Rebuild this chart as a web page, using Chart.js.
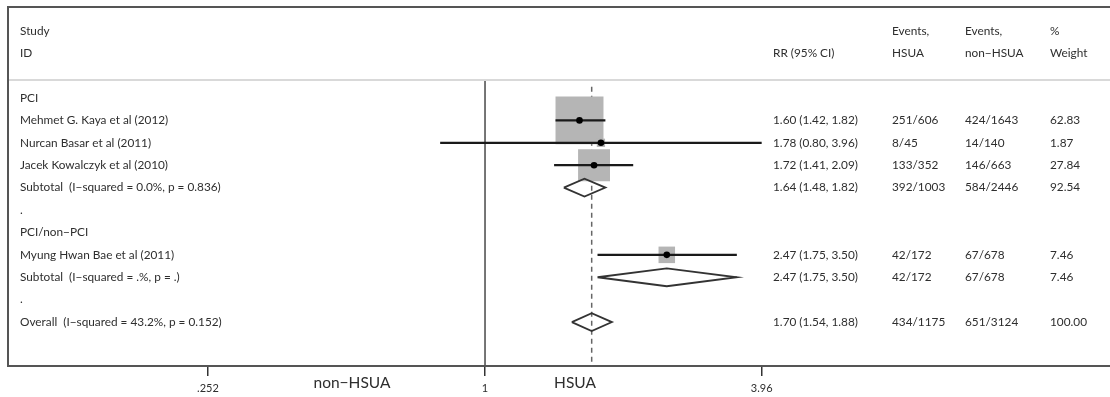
<!DOCTYPE html>
<html>
<head>
<meta charset="utf-8">
<script src="https://cdn.jsdelivr.net/npm/chart.js@4.4.1/dist/chart.umd.min.js"></script>
<style>
  html, body { margin: 0; padding: 0; background: #fff; }
  #wrap { width: 1110px; height: 397px; position: relative; }
</style>
</head>
<body>
<div id="wrap"><canvas id="forest"></canvas></div>
<script>
'use strict';

// rows (index 0 = first row under the header)
var labels = ['PCI', 'Mehmet G. Kaya et al (2012)', 'Nurcan Basar et al (2011)', 'Jacek Kowalczyk et al (2010)',
	'Subtotal  (I\u2212squared = 0.0%, p = 0.836)', '.', 'PCI/non\u2212PCI', 'Myung Hwan Bae et al (2011)',
	'Subtotal  (I\u2212squared = .%, p = .)', '.', 'Overall  (I\u2212squared = 43.2%, p = 0.152)'];
var rowType = ['group', 'study', 'study', 'study', 'pooled', 'blank', 'group', 'study', 'pooled', 'blank', 'pooled'];
var rr = [null, 1.60, 1.78, 1.72, 1.64, null, null, 2.47, 2.47, null, 1.70];
var lower = [null, 1.42, 0.80, 1.41, 1.48, null, null, 1.75, 1.75, null, 1.54];
var upper = [null, 1.82, 3.96, 2.09, 1.82, null, null, 3.50, 3.50, null, 1.88];
var eventsHsua = ['', '251/606', '8/45', '133/352', '392/1003', '', '', '42/172', '42/172', '', '434/1175'];
var eventsNon = ['', '424/1643', '14/140', '146/663', '584/2446', '', '', '67/678', '67/678', '', '651/3124'];
var weight = ['', '62.83', '1.87', '27.84', '92.54', '', '', '7.46', '7.46', '', '100.00'];
var rrText = ['', '1.60 (1.42, 1.82)', '1.78 (0.80, 3.96)', '1.72 (1.41, 2.09)', '1.64 (1.48, 1.82)', '', '',
	'2.47 (1.75, 3.50)', '2.47 (1.75, 3.50)', '', '1.70 (1.54, 1.88)'];
var tickValues = [0.252, 1, 3.96];
var tickLabels = ['.252', '1', '3.96'];
var overallRR = 1.70;

var textColor = '#2e2e2e';
var font = 'Lato, "Open Sans", sans-serif';

var datasets = [];

// study CI lines, boxes and point estimates
var boxPts = [], boxR = [], dotPts = [];
rowType.forEach(function(t, i) {
	if (t === 'study') {
		datasets.push({
			type: 'line',
			data: [{x: lower[i], y: i}, {x: upper[i], y: i}],
			borderColor: '#1a1a1a', borderWidth: 2.2, pointRadius: 0, fill: false, order: 1
		});
		boxPts.push({x: rr[i], y: i});
		// square area proportional to weight
		boxR.push(6.05 * Math.sqrt(parseFloat(weight[i])) / Math.SQRT2);
		dotPts.push({x: rr[i], y: i});
	}
	if (t === 'pooled') {
		datasets.push({
			type: 'line',
			data: [{x: lower[i], y: i}, {x: rr[i], y: i - 0.4}, {x: upper[i], y: i},
				{x: rr[i], y: i + 0.4}, {x: lower[i], y: i}],
			borderColor: '#333', borderWidth: 1.8, pointRadius: 0, fill: false, tension: 0, order: 1
		});
	}
});

datasets.push({
	type: 'scatter', data: boxPts, pointStyle: 'rect', pointRadius: boxR,
	backgroundColor: '#b5b5b5', borderWidth: 0, order: 3
});
datasets.push({
	type: 'scatter', data: dotPts, pointStyle: 'circle', pointRadius: 3.3,
	backgroundColor: '#000', borderWidth: 0, order: 0
});

// null line and overall dashed line
datasets.push({
	type: 'line', data: [{x: 1, y: -0.8}, {x: 1, y: 12}],
	borderColor: '#555', borderWidth: 1.6, pointRadius: 0, fill: false, order: 2
});
datasets.push({
	type: 'line', data: [{x: overallRR, y: -0.5}, {x: overallRR, y: 12}],
	borderColor: '#666', borderWidth: 1.5, borderDash: [5, 4], pointRadius: 0, fill: false, order: 4
});

var textPlugin = {
	id: 'forestText',
	afterDraw: function(chart) {
		var ctx = chart.ctx, area = chart.chartArea, ys = chart.scales.y;
		ctx.save();
		// frame
		ctx.strokeStyle = '#555';
		ctx.lineWidth = 2;
		ctx.beginPath();
		ctx.moveTo(area.left, area.bottom);
		ctx.lineTo(area.left, area.top);
		ctx.lineTo(area.right, area.top);
		ctx.stroke();
		// header divider
		ctx.strokeStyle = '#d9d9d9';
		ctx.lineWidth = 2;
		ctx.beginPath();
		ctx.moveTo(area.left + 1, ys.getPixelForValue(-0.8));
		ctx.lineTo(area.right, ys.getPixelForValue(-0.8));
		ctx.stroke();

		ctx.fillStyle = textColor;
		ctx.font = '11.8px ' + font;
		ctx.textBaseline = 'middle';
		ctx.textAlign = 'left';
		var cols = [20, 773, 892, 965, 1050];
		var h1 = ['Study', '', 'Events,', 'Events,', '%'];
		var h2 = ['ID', 'RR (95% CI)', 'HSUA', 'non\u2212HSUA', 'Weight'];
		cols.forEach(function(cx, k) {
			ctx.fillText(h1[k], cx, ys.getPixelForValue(-3));
			ctx.fillText(h2[k], cx, ys.getPixelForValue(-2));
		});
		labels.forEach(function(lab, i) {
			var py = ys.getPixelForValue(i);
			ctx.fillText(lab, cols[0], py);
			ctx.fillText(rrText[i], cols[1], py);
			ctx.fillText(eventsHsua[i], cols[2], py);
			ctx.fillText(eventsNon[i], cols[3], py);
			ctx.fillText(weight[i], cols[4], py);
		});

		// direction labels
		ctx.font = '15.5px ' + font;
		ctx.textAlign = 'center';
		ctx.fillText('non\u2212HSUA', 352, 383);
		ctx.fillText('HSUA', 575, 383);
		ctx.restore();
	}
};

new Chart(document.getElementById('forest'), {
	data: { datasets: datasets },
	options: {
		responsive: true,
		maintainAspectRatio: false,
		animation: false,
		layout: { autoPadding: false, padding: { left: 8, top: 7, right: 0, bottom: 0 } },
		plugins: {
			legend: { display: false },
			tooltip: { enabled: false }
		},
		scales: {
			x: {
				type: 'logarithmic',
				min: 0.0932,
				max: 22.4,
				afterBuildTicks: function(scale) {
					scale.ticks = tickValues.map(function(v) { return {value: v}; });
				},
				afterFit: function(scale) { scale.height = 31; },
				ticks: {
					autoSkip: false,
					maxRotation: 0,
					padding: 6,
					color: textColor,
					font: { family: font, size: 11 },
					callback: function(value, index) { return tickLabels[index]; }
				},
				grid: { drawOnChartArea: false, drawTicks: true, tickLength: 10, color: '#333', lineWidth: 1.5 },
				border: { display: true, color: '#555', width: 2 }
			},
			y: {
				type: 'linear',
				reverse: true,
				min: -4.06,
				max: 11.96,
				display: false
			}
		}
	},
	plugins: [textPlugin]
});
</script>
</body>
</html>
